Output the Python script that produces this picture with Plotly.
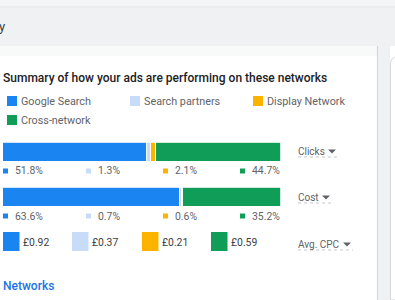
import plotly.graph_objects as go

W, H = 395, 300

# ---- data ----
networks = ["Google Search", "Search partners", "Display Network", "Cross-network"]
colors = ["#1a84f0", "#c6dcf8", "#fbb300", "#0f9d58"]
metrics = ["Clicks", "Cost"]
clicks_pct = [51.8, 1.3, 2.1, 44.7]
cost_pct = [63.6, 0.7, 0.6, 35.2]
avg_cpc = [0.92, 0.37, 0.21, 0.59]
dropdown_labels = ["Clicks", "Cost", "Avg. CPC"]
title_text = "Summary of how your ads are performing on these networks"
link_text = "Networks"

FONT = "Roboto, Arial, sans-serif"


def px(x):
    return x / W


def py(y):
    return 1 - y / H


fig = go.Figure()

# stacked horizontal bars
for i, name in enumerate(networks):
    fig.add_trace(go.Bar(
        y=metrics,
        x=[clicks_pct[i], cost_pct[i]],
        orientation="h",
        name=name,
        marker=dict(color=colors[i], line=dict(color="white", width=0.8)),
        width=0.44,
        hoverinfo="skip",
        showlegend=False,
    ))

shapes = []
annotations = []

# ---- background ----
shapes += [
    dict(type="rect", xref="paper", yref="paper", x0=0, x1=1, y0=py(46), y1=1,
         fillcolor="#eff1f2", line_width=0, layer="below"),
    dict(type="line", xref="paper", yref="paper", x0=0, x1=1, y0=py(7), y1=py(7),
         line=dict(color="#e4e6e9", width=1), layer="below"),
    dict(type="rect", xref="paper", yref="paper", x0=0, x1=1, y0=py(0), y1=py(6),
         fillcolor="#f4f5f6", line_width=0, layer="below"),
    dict(type="rect", xref="paper", yref="paper", x0=0, x1=px(378), y0=py(56), y1=py(46),
         fillcolor="#f8f9f9", line_width=0, layer="below"),
    dict(type="rect", xref="paper", yref="paper", x0=px(378), x1=px(390), y0=0, y1=py(46),
         fillcolor="#eff1f2", line_width=0, layer="below"),
    dict(type="line", xref="paper", yref="paper", x0=px(377.5), x1=px(377.5), y0=0, y1=py(46),
         line=dict(color="#d6d8db", width=1.2), layer="below"),
    dict(type="path", xref="paper", yref="paper",
         path=f"M {px(390.5)},0 L {px(390.5)},{py(64)} Q {px(390.5)},{py(57)} {px(397)},{py(57)} L {px(400)},{py(57)} L {px(400)},0 Z",
         fillcolor="white", line=dict(color="#d6d8db", width=1), layer="below"),
]

# partial page heading at far left
annotations.append(dict(x=px(-3), y=py(27), xref="paper", yref="paper", text="y",
                        showarrow=False, xanchor="left", yanchor="middle",
                        font=dict(family=FONT, size=13, color="#3c4043")))

# title
annotations.append(dict(x=px(0.5), y=py(78), xref="paper", yref="paper", text=title_text,
                        showarrow=False, xanchor="left", yanchor="middle",
                        font=dict(family=FONT, size=12, color="#202124", weight=500)))

# legend
leg_pos = [(7, 101), (130, 101), (253, 101), (7, 120)]
for i, name in enumerate(networks):
    lx, ly = leg_pos[i]
    shapes.append(dict(type="rect", xref="paper", yref="paper",
                       x0=px(lx), x1=px(lx + 10), y0=py(ly + 5), y1=py(ly - 5),
                       fillcolor=colors[i], line_width=0))
    annotations.append(dict(x=px(lx + 12), y=py(ly), xref="paper", yref="paper", text=name,
                            showarrow=False, xanchor="left", yanchor="middle",
                            font=dict(family=FONT, size=10.8, color="#5f6368")))

# percentage labels
pct_cols = [3, 86, 163, 240]
for row_y, vals in [(171, clicks_pct), (216, cost_pct)]:
    for i, v in enumerate(vals):
        cx = pct_cols[i]
        shapes.append(dict(type="rect", xref="paper", yref="paper",
                           x0=px(cx), x1=px(cx + 5), y0=py(row_y + 2.5), y1=py(row_y - 2.5),
                           fillcolor=colors[i], line_width=0))
        annotations.append(dict(x=px(cx + 10), y=py(row_y), xref="paper", yref="paper",
                                text=f"{v:.1f}%", showarrow=False, xanchor="left", yanchor="middle",
                                font=dict(family=FONT, size=10.4, color="#5f6368")))

# avg cpc row
cpc_cols = [3, 72, 142, 211]
for i, v in enumerate(avg_cpc):
    cx = cpc_cols[i]
    shapes.append(dict(type="rect", xref="paper", yref="paper",
                       x0=px(cx), x1=px(cx + 16.5), y0=py(251), y1=py(232),
                       fillcolor=colors[i], line_width=0))
    annotations.append(dict(x=px(cx + 18), y=py(242), xref="paper", yref="paper",
                            text=f"£{v:.2f}", showarrow=False, xanchor="left", yanchor="middle",
                            font=dict(family=FONT, size=10.4, color="#3c4043")))

# dropdowns
dd_pos = [(151, 42), (197, 35), (244, 55)]
dd_arrow_x = [328, 322, 343]
for i, lab in enumerate(dropdown_labels):
    ty, uw = dd_pos[i]
    annotations.append(dict(x=px(296), y=py(ty), xref="paper", yref="paper", text=lab,
                            showarrow=False, xanchor="left", yanchor="middle",
                            font=dict(family=FONT, size=10, color="#5f6368")))
    ax = dd_arrow_x[i]
    shapes.append(dict(type="path", xref="paper", yref="paper",
                       path=f"M {px(ax)},{py(ty - 1.5)} L {px(ax + 8)},{py(ty - 1.5)} L {px(ax + 4)},{py(ty + 2.5)} Z",
                       fillcolor="#5f6368", line_width=0))
    shapes.append(dict(type="line", xref="paper", yref="paper",
                       x0=px(298), x1=px(298 + uw), y0=py(ty + 6), y1=py(ty + 6),
                       line=dict(color="#c4c7cb", width=1, dash="dot")))

# link
annotations.append(dict(x=px(0.5), y=py(286), xref="paper", yref="paper", text=link_text,
                        showarrow=False, xanchor="left", yanchor="middle",
                        font=dict(family=FONT, size=12, color="#1a73e8", weight=500)))

fig.update_layout(
    width=W, height=H, autosize=False,
    margin=dict(l=0, r=0, t=0, b=0, pad=0),
    paper_bgcolor="white", plot_bgcolor="rgba(0,0,0,0)",
    barmode="stack", bargap=0,
    shapes=shapes, annotations=annotations,
    xaxis=dict(domain=[px(3), px(281)], range=[0, 100], visible=False, fixedrange=True),
    yaxis=dict(domain=[py(219.5), py(129.5)], type="category", range=[1.5, -0.5],
               visible=False, fixedrange=True),
    showlegend=False,
)

fig.write_html("out.html", config={"displayModeBar": False})
